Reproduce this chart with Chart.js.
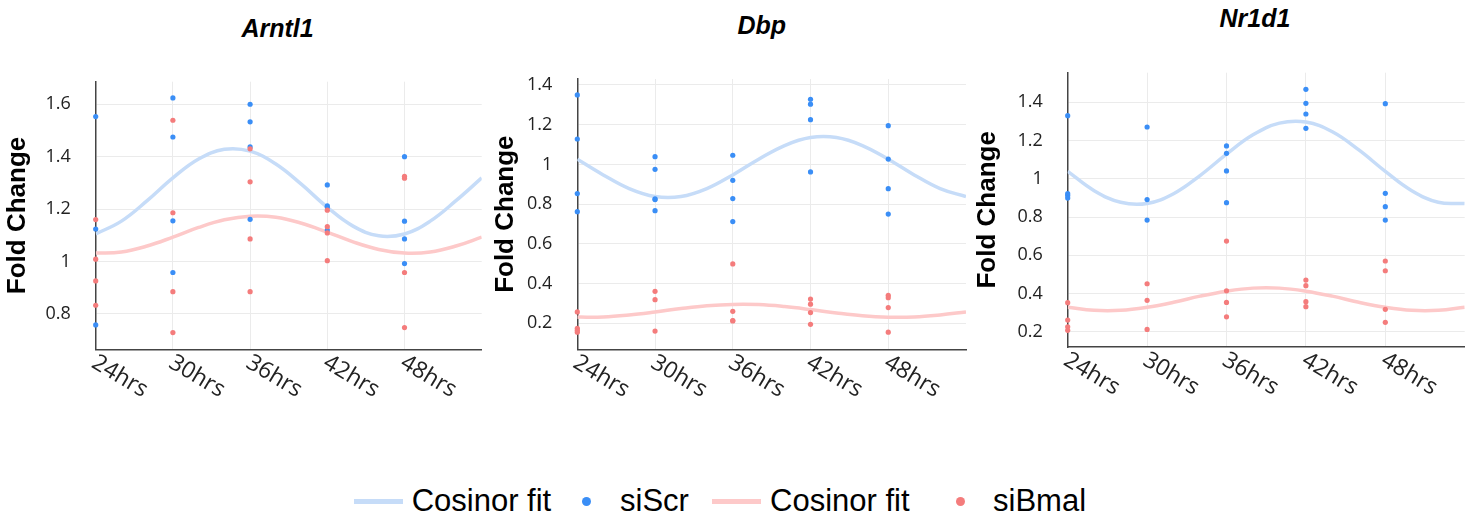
<!DOCTYPE html>
<html>
<head>
<meta charset="utf-8">
<script src="https://cdn.jsdelivr.net/npm/chart.js@4.4.1/dist/chart.umd.min.js"></script>
<style>
  body { margin: 0; background: #fff; width: 1478px; height: 519px; position: relative; overflow: hidden; }
  canvas { position: absolute; top: 0; }
  .ttl { position: absolute; width: 200px; text-align: center; font: italic bold 25px/30px 'Liberation Sans', Arial, sans-serif; color: #000; }
  .lg { position: absolute; top: 483px; font: 31px/36px 'Liberation Sans', Arial, sans-serif; color: #000; white-space: nowrap; }
  .sw { position: absolute; top: 498.5px; width: 49px; height: 5px; }
  .dot { position: absolute; top: 496.5px; width: 9px; height: 9px; border-radius: 50%; }
</style>
</head>
<body>
<div class="ttl" style="left:177.5px; top:13px">Arntl1</div>
<div class="ttl" style="left:661.7px; top:9.6px">Dbp</div>
<div class="ttl" style="left:1155px; top:3px">Nr1d1</div>

<canvas id="c1" width="490" height="420" style="left:0"></canvas>
<canvas id="c2" width="480" height="420" style="left:490px"></canvas>
<canvas id="c3" width="508" height="420" style="left:970px"></canvas>

<div class="sw" style="left:354px; background:#c6dcf8"></div>
<div class="lg" style="left:411.7px">Cosinor fit</div>
<div class="dot" style="left:582.2px; background:#3a8ef6"></div>
<div class="lg" style="left:620px">siScr</div>
<div class="sw" style="left:712px; background:#fdc9c9"></div>
<div class="lg" style="left:770px">Cosinor fit</div>
<div class="dot" style="left:955.5px; background:#f47c7c"></div>
<div class="lg" style="left:993px">siBmal</div>

<script>
// sampling times and labels
const hours = [24, 30, 36, 42, 48];
const hourLabels = ['24hrs', '30hrs', '36hrs', '42hrs', '48hrs'];
const fitHours = [24, 26, 28, 30, 32, 34, 36, 38, 40, 42, 44, 46, 48, 50, 52, 54];

// Arntl1 (replicates per time point)
const arntl1Scr = [
  [1.553, 1.124, 0.758],
  [1.624, 1.475, 1.155, 0.958],
  [1.600, 1.533, 1.437, 1.161],
  [1.292, 1.212, 1.208, 1.120],
  [1.400, 1.154, 1.086, 0.992]
];
const arntl1Bmal = [
  [1.160, 1.009, 0.926, 0.833],
  [1.539, 1.186, 0.885, 0.729],
  [1.430, 1.304, 1.086, 0.885],
  [1.196, 1.133, 1.109, 1.003],
  [1.325, 1.318, 0.958, 0.748]
];
const arntl1ScrFit = [1.105, 1.154, 1.232, 1.319, 1.391, 1.428, 1.421, 1.372, 1.294, 1.207, 1.135, 1.098, 1.105, 1.154, 1.232, 1.319];
const arntl1BmalFit = [1.032, 1.036, 1.059, 1.093, 1.130, 1.159, 1.173, 1.169, 1.146, 1.112, 1.075, 1.046, 1.032, 1.036, 1.059, 1.093];
const arntl1YTicks = [0.8, 1, 1.2, 1.4, 1.6];

// Dbp
const dbpScr = [
  [1.350, 1.128, 0.853, 0.762],
  [1.039, 0.975, 0.826, 0.823, 0.767],
  [1.046, 0.920, 0.828, 0.712],
  [1.328, 1.303, 1.225, 0.962],
  [1.195, 1.027, 0.878, 0.750]
];
const dbpBmal = [
  [0.257, 0.175, 0.165, 0.155],
  [0.361, 0.319, 0.161],
  [0.499, 0.260, 0.214, 0.212],
  [0.322, 0.296, 0.254, 0.195],
  [0.341, 0.329, 0.279, 0.155]
];
const dbpScrFit = [1.026, 0.947, 0.878, 0.838, 0.838, 0.878, 0.947, 1.026, 1.095, 1.135, 1.135, 1.095, 1.026, 0.947, 0.878, 0.838];
const dbpBmalFit = [0.231, 0.232, 0.242, 0.257, 0.274, 0.288, 0.295, 0.294, 0.284, 0.269, 0.252, 0.238, 0.231, 0.232, 0.242, 0.257];
const dbpYTicks = [0.2, 0.4, 0.6, 0.8, 1, 1.2, 1.4];

// Nr1d1
const nr1d1Scr = [
  [1.330, 0.922, 0.912, 0.899],
  [1.271, 0.891, 0.784],
  [1.172, 1.133, 1.041, 0.875],
  [1.468, 1.395, 1.339, 1.264],
  [1.393, 0.924, 0.854, 0.784]
];
const nr1d1Bmal = [
  [0.352, 0.261, 0.226, 0.207],
  [0.451, 0.364, 0.212],
  [0.674, 0.414, 0.353, 0.278],
  [0.470, 0.441, 0.357, 0.331],
  [0.570, 0.519, 0.317, 0.249]
];
const nr1d1ScrFit = [1.039, 0.938, 0.877, 0.871, 0.922, 1.017, 1.129, 1.230, 1.291, 1.297, 1.246, 1.151, 1.039, 0.938, 0.877, 0.871];
const nr1d1BmalFit = [0.328, 0.312, 0.312, 0.328, 0.354, 0.386, 0.412, 0.428, 0.428, 0.412, 0.386, 0.354, 0.328, 0.312, 0.312, 0.328];
const nr1d1YTicks = [0.2, 0.4, 0.6, 0.8, 1, 1.2, 1.4];

const BLUE = '#3a8ef6', RED = '#f47c7c';
const BLUE_FIT = '#c6dcf8', RED_FIT = '#fdc9c9';

function toPoints(groups) {
  const out = [];
  groups.forEach((vals, i) => vals.forEach(v => out.push({ x: hours[i], y: v })));
  return out;
}
function toFit(vals) {
  return vals.map((v, i) => ({ x: fitHours[i], y: v }));
}

// x labels slanted downwards, starting at the tick
const slantedLabels = {
  id: 'slantedLabels',
  afterDraw(chart) {
    const xs = chart.scales.x, ctx = chart.ctx;
    const size = 23;
    ctx.save();
    ctx.font = size + 'px "Open Sans"';
    ctx.fillStyle = '#222';
    ctx.textAlign = 'left';
    ctx.textBaseline = 'alphabetic';
    hours.forEach((h, i) => {
      ctx.save();
      ctx.translate(xs.getPixelForValue(h) + 3, xs.top + 3);
      ctx.rotate(31 * Math.PI / 180);
      ctx.fillText(hourLabels[i], 0, size * 0.714);
      ctx.restore();
    });
    ctx.restore();
  }
};

function makePanel(id, p) {
  new Chart(document.getElementById(id), {
    type: 'scatter',
    data: {
      datasets: [
        { label: 'siBmal', data: toPoints(p.bmal), backgroundColor: RED, pointRadius: 2.6, borderWidth: 0, clip: false },
        { label: 'siScr', data: toPoints(p.scr), backgroundColor: BLUE, pointRadius: 2.6, borderWidth: 0, clip: false },
        { type: 'line', label: 'Cosinor fit', data: toFit(p.bmalFit), borderColor: RED_FIT, borderWidth: 3.5, pointRadius: 0, tension: 0.4, fill: false },
        { type: 'line', label: 'Cosinor fit', data: toFit(p.scrFit), borderColor: BLUE_FIT, borderWidth: 3.5, pointRadius: 0, tension: 0.4, fill: false }
      ]
    },
    options: {
      responsive: false,
      animation: false,
      layout: { padding: { left: 0, top: p.top, right: p.right, bottom: 0 } },
      plugins: { legend: { display: false }, tooltip: { enabled: false } },
      scales: {
        x: {
          type: 'linear', min: 24, max: 54,
          afterBuildTicks: s => { s.ticks = hours.map(v => ({ value: v })); },
          afterFit: s => { s.height = p.xh; },
          ticks: { display: false },
          grid: { color: '#ebebeb', drawTicks: false, z: -1 },
          border: { color: '#444', width: 1.5 }
        },
        y: {
          min: p.min, max: p.max,
          afterBuildTicks: s => { s.ticks = p.yTicks.map(v => ({ value: v })); },
          afterFit: s => { s.width = p.yw; },
          ticks: { padding: 25, color: '#222', font: { family: 'Open Sans', size: 18 }, callback: v => String(v) },
          grid: { color: '#ebebeb', drawTicks: false, z: -1 },
          border: { color: '#444', width: 1.5 },
          title: {
            display: true, text: 'Fold Change', color: '#000',
            font: { family: 'Liberation Sans', size: 26, weight: 'bold' },
            padding: { top: p.tp, bottom: 0 }
          }
        }
      }
    },
    plugins: [slantedLabels]
  });
}

makePanel('c1', { scr: arntl1Scr, bmal: arntl1Bmal, scrFit: arntl1ScrFit, bmalFit: arntl1BmalFit, yTicks: arntl1YTicks,
  min: 0.665, max: 1.686, top: 81.7, right: 8.3, yw: 95.7, xh: 70.7, tp: 2 });
makePanel('c2', { scr: dbpScr, bmal: dbpBmal, scrFit: dbpScrFit, bmalFit: dbpBmalFit, yTicks: dbpYTicks,
  min: 0.069, max: 1.43, top: 79, right: 2.7, yw: 87.3, xh: 70.7, tp: 0 });
makePanel('c3', { scr: nr1d1Scr, bmal: nr1d1Bmal, scrFit: nr1d1ScrFit, bmalFit: nr1d1BmalFit, yTicks: nr1d1YTicks,
  min: 0.12, max: 1.555, top: 72.7, right: 13.3, yw: 97.7, xh: 73, tp: 2.4 });
</script>
</body>
</html>
